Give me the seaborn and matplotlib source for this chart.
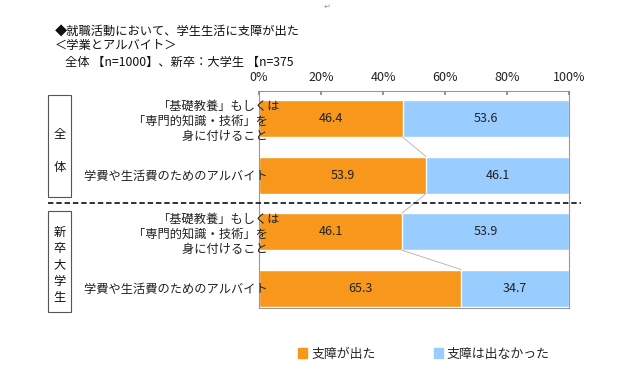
import matplotlib
matplotlib.use("Agg")
import matplotlib.pyplot as plt
import pandas as pd
import seaborn as sns
from matplotlib.lines import Line2D
from matplotlib.patches import Patch, Rectangle

# data
item_ids = ["all_study", "all_job", "new_study", "new_job"]
item_labels = ["「基礎教養」もしくは\n「専門的知識・技術」を　\n身に付けること　",
               "学費や生活費のためのアルバイト　",
               "「基礎教養」もしくは\n「専門的知識・技術」を　\n身に付けること　",
               "学費や生活費のためのアルバイト　"]
affected = [46.4, 53.9, 46.1, 65.3]
not_affected = [53.6, 46.1, 53.9, 34.7]
series_names = ["支障が出た", "支障は出なかった"]
tick_values = [0, 20, 40, 60, 80, 100]
tick_labels = ["0%", "20%", "40%", "60%", "80%", "100%"]

ORANGE = "#F7981D"
BLUE = "#99CCFF"
BAR_W = 0.655

sns.set_theme(style="white")
plt.rcParams["font.family"] = ["Noto Sans CJK JP", "DejaVu Sans"]

df = pd.DataFrame({"item": item_ids, "yes": affected, "no": not_affected})
df["total"] = df["yes"] + df["no"]

fig = plt.figure(figsize=(6.22, 3.73), dpi=100)
ax = fig.add_axes([0.4164, 0.1743, 0.4984, 0.5818])

# stacked bars: full bar in blue, affected share drawn over it in orange
sns.barplot(data=df, x="total", y="item", order=item_ids, color=BLUE,
            width=BAR_W, orient="h", saturation=1, ax=ax)
sns.barplot(data=df, x="yes", y="item", order=item_ids, color=ORANGE,
            width=BAR_W, orient="h", saturation=1, ax=ax)

for i, (y, n) in enumerate(zip(affected, not_affected)):
    ax.text(y / 2, i, f"{y:.1f}", ha="center", va="center", fontsize=9, color="#222222")
    ax.text(y + n / 2, i, f"{n:.1f}", ha="center", va="center", fontsize=9, color="#222222")

# series lines between consecutive bars
for i in range(len(affected) - 1):
    ax.plot([affected[i], affected[i + 1]], [i + BAR_W / 2, i + 1 - BAR_W / 2],
            color="#B0B0B0", lw=0.6, zorder=1)

ax.set_axisbelow(False)
ax.set_xlim(0, 100)
ax.set_ylim(3.35, -0.49)
ax.set_xlabel("")
ax.set_ylabel("")
ax.xaxis.tick_top()
ax.set_xticks(tick_values)
ax.set_xticklabels(tick_labels, fontsize=9, color="#222222")
ax.tick_params(axis="x", direction="in", length=3, color="#888888", pad=5)
ax.set_yticks(range(len(item_ids)))
ax.set_yticklabels(item_labels, fontsize=8.8, color="#222222")
ax.tick_params(axis="y", length=0, pad=-15)
for t in ax.get_yticklabels():
    t.set_multialignment("right")
for s in ax.spines.values():
    s.set_color("#999999")
    s.set_linewidth(0.8)

# title block (clipped in the original)
fig.text(55 / 622, 1 - 31 / 373, "◆就職活動において、学生生活に支障が出た", fontsize=8.8,
         va="center", ha="left", color="#111111")
fig.text(55 / 622, 1 - 46 / 373, "＜学業とアルバイト＞", fontsize=8.8,
         va="center", ha="left", color="#111111")
fig.text(65 / 622, 1 - 62 / 373, "全体 【n=1000】、新卒：大学生 【n=375", fontsize=8.8,
         va="center", ha="left", color="#111111")
fig.text(327 / 622, 1 - 6 / 373, "↵", fontsize=6, color="#999999", ha="center", va="center")

# group boxes and separator
for top, bottom in [(95, 197), (211, 312)]:
    fig.add_artist(Rectangle((48 / 622, 1 - bottom / 373), 23 / 622, (bottom - top) / 373,
                             transform=fig.transFigure, fill=False, ec="#555555", lw=0.8))
fig.text(59.5 / 622, 1 - 151 / 373, "全\n\n体", fontsize=8.8, ha="center", va="center",
         linespacing=1.33, color="#111111")
fig.text(59.5 / 622, 1 - 265 / 373, "新\n卒\n大\n学\n生", fontsize=8.8, ha="center",
         va="center", linespacing=1.33, color="#111111")
fig.add_artist(Line2D([48 / 622, 581 / 622], [1 - 203 / 373, 1 - 203 / 373],
                      transform=fig.transFigure, color="#222222", lw=1.3,
                      linestyle=(0, (3, 1.6))))

handles = [Patch(color=ORANGE), Patch(color=BLUE)]
fig.legend(handles, series_names, loc="center", bbox_to_anchor=(424 / 622, 1 - 354 / 373),
           ncol=2, frameon=False, fontsize=9.3, handlelength=0.7, handleheight=0.7,
           handletextpad=0.3, columnspacing=4.5)

fig.savefig("out.png", dpi=100)
